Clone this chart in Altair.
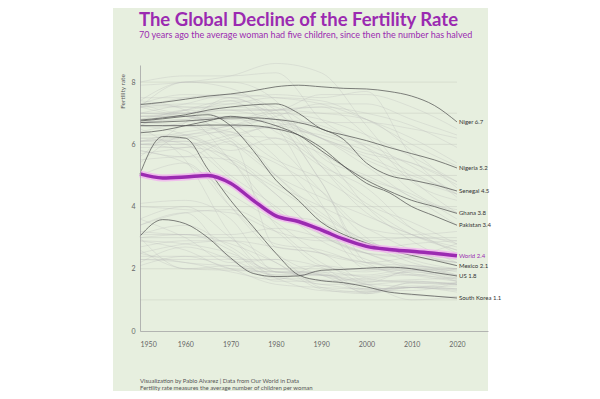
import altair as alt
import pandas as pd

# ---------------- data ----------------
YEARS = [1950, 1955, 1960, 1965, 1970, 1975, 1980, 1985, 1990, 1995, 2000, 2005, 2010, 2015, 2020]
DECADES = [1950, 1960, 1970, 1980, 1990, 2000, 2010, 2020]

WORLD = [5.05, 4.92, 4.95, 5.0, 4.75, 4.2, 3.7, 3.52, 3.25, 2.95, 2.72, 2.62, 2.56, 2.5, 2.42]

NIGER = [7.28, 7.35, 7.45, 7.55, 7.62, 7.72, 7.85, 7.9, 7.85, 7.8, 7.78, 7.7, 7.55, 7.25, 6.72]
NIGERIA = [6.78, 6.85, 6.95, 7.1, 7.2, 7.27, 7.3, 7.0, 6.5, 6.3, 6.12, 5.9, 5.7, 5.5, 5.24]
SENEGAL = [6.7, 6.72, 6.75, 6.8, 6.85, 6.85, 6.8, 6.7, 6.5, 6.15, 5.4, 5.0, 4.85, 4.7, 4.5]
GHANA = [6.37, 6.45, 6.6, 6.75, 6.9, 6.8, 6.6, 6.3, 5.8, 5.3, 4.85, 4.5, 4.2, 4.0, 3.78]
PAKISTAN = [6.6, 6.6, 6.6, 6.62, 6.62, 6.6, 6.5, 6.3, 5.9, 5.3, 4.75, 4.45, 4.0, 3.7, 3.4]
MEXICO = [6.75, 6.82, 6.9, 6.95, 6.6, 5.8, 4.85, 4.2, 3.5, 3.1, 2.83, 2.6, 2.43, 2.27, 2.1]
US = [3.05, 3.58, 3.45, 3.0, 2.35, 1.85, 1.75, 1.77, 1.95, 1.98, 2.02, 2.05, 2.0, 1.88, 1.77]
SOUTH_KOREA = [5.05, 6.25, 6.2, 5.2, 4.2, 3.35, 2.5, 1.8, 1.62, 1.55, 1.42, 1.25, 1.18, 1.12, 1.06]

HIGHLIGHT_NAMES = ["Niger", "Nigeria", "Senegal", "Ghana", "Pakistan", "Mexico", "US", "South Korea"]
HIGHLIGHT_VALUES = [NIGER, NIGERIA, SENEGAL, GHANA, PAKISTAN, MEXICO, US, SOUTH_KOREA]
LABEL_TEXTS = ["Niger 6.7", "Nigeria 5.2", "Senegal 4.5", "Ghana 3.8", "Pakistan 3.4",
               "Mexico 2.1", "US  1.8", "South Korea 1.1", "World 2.4"]

BACKGROUND = {
    "France": [2.9, 2.8, 2.5, 1.9, 1.8, 1.8, 2.0, 1.8],
    "United Kingdom": [2.2, 2.7, 2.3, 1.8, 1.8, 1.65, 1.9, 1.6],
    "Germany": [2.1, 2.4, 2.0, 1.5, 1.4, 1.35, 1.4, 1.55],
    "Italy": [2.4, 2.4, 2.4, 1.7, 1.3, 1.25, 1.4, 1.3],
    "Spain": [2.5, 2.8, 2.9, 2.2, 1.35, 1.2, 1.4, 1.25],
    "Japan": [3.0, 2.0, 2.1, 1.75, 1.5, 1.35, 1.4, 1.35],
    "Sweden": [2.3, 2.2, 1.9, 1.65, 2.1, 1.55, 1.95, 1.7],
    "Canada": [3.4, 3.8, 2.3, 1.7, 1.65, 1.5, 1.6, 1.5],
    "Australia": [3.1, 3.4, 2.7, 1.9, 1.9, 1.75, 1.9, 1.65],
    "Russia": [2.9, 2.6, 2.0, 1.9, 1.9, 1.2, 1.55, 1.5],
    "Poland": [3.6, 3.0, 2.2, 2.3, 2.05, 1.35, 1.4, 1.45],
    "Hungary": [2.6, 2.0, 1.95, 1.9, 1.85, 1.3, 1.3, 1.55],
    "Greece": [2.3, 2.3, 2.3, 2.3, 1.4, 1.25, 1.45, 1.35],
    "Netherlands": [3.1, 3.1, 2.6, 1.6, 1.6, 1.7, 1.8, 1.6],
    "Argentina": [3.2, 3.1, 3.1, 3.3, 3.0, 2.5, 2.35, 2.2],
    "Uruguay": [2.7, 2.9, 2.9, 2.7, 2.5, 2.2, 2.0, 1.95],
    "New Zealand": [3.6, 4.0, 3.0, 2.0, 2.1, 1.95, 2.1, 1.8],
    "Portugal": [3.0, 3.1, 2.8, 2.2, 1.5, 1.5, 1.4, 1.35],
    "Ireland": [3.4, 3.8, 3.9, 3.2, 2.1, 1.9, 2.05, 1.75],
    "Bulgaria": [2.5, 2.2, 2.1, 2.0, 1.8, 1.25, 1.55, 1.55],
    "China": [5.8, 5.6, 6.1, 2.7, 2.5, 1.6, 1.65, 1.7],
    "Thailand": [6.1, 6.2, 5.5, 3.4, 2.2, 1.7, 1.55, 1.5],
    "Taiwan": [6.0, 5.8, 4.0, 2.5, 1.8, 1.5, 1.0, 1.1],
    "Singapore": [6.5, 5.5, 3.1, 1.8, 1.8, 1.5, 1.15, 1.1],
    "Iran": [6.9, 6.9, 6.6, 6.5, 4.8, 2.2, 1.8, 2.0],
    "Brazil": [6.1, 6.1, 5.0, 4.0, 2.9, 2.3, 1.85, 1.7],
    "Vietnam": [5.4, 6.3, 6.4, 5.0, 3.6, 2.0, 1.95, 2.0],
    "Turkey": [6.6, 6.3, 5.5, 4.4, 3.1, 2.5, 2.1, 2.0],
    "Colombia": [6.7, 6.8, 5.5, 3.9, 3.1, 2.5, 2.0, 1.8],
    "Chile": [5.0, 5.4, 4.0, 2.8, 2.6, 2.1, 1.8, 1.6],
    "Indonesia": [5.5, 5.6, 5.5, 4.4, 3.1, 2.5, 2.4, 2.2],
    "India": [5.9, 5.9, 5.6, 4.7, 4.0, 3.3, 2.6, 2.1],
    "Bangladesh": [6.4, 6.7, 6.9, 6.0, 4.5, 3.0, 2.3, 2.0],
    "Egypt": [6.6, 6.6, 6.0, 5.4, 4.5, 3.3, 3.1, 3.2],
    "Philippines": [7.4, 7.1, 6.1, 5.0, 4.3, 3.7, 3.1, 2.6],
    "Morocco": [6.6, 7.1, 6.7, 5.6, 4.0, 2.8, 2.5, 2.3],
    "Algeria": [7.3, 7.6, 7.5, 6.8, 4.8, 2.6, 2.8, 2.9],
    "Saudi Arabia": [7.2, 7.3, 7.3, 7.0, 5.8, 4.0, 2.9, 2.2],
    "Peru": [6.9, 6.9, 6.2, 5.0, 3.8, 2.9, 2.5, 2.2],
    "South Africa": [6.0, 6.1, 5.4, 4.6, 3.7, 2.9, 2.5, 2.4],
    "Cuba": [4.1, 4.2, 3.6, 1.9, 1.8, 1.6, 1.6, 1.5],
    "Sri Lanka": [5.8, 5.4, 4.4, 3.5, 2.5, 2.2, 2.1, 2.0],
    "Malaysia": [6.2, 6.0, 4.9, 3.8, 3.5, 2.8, 2.2, 1.9],
    "Yemen": [7.9, 8.0, 8.2, 8.6, 8.3, 6.6, 4.9, 3.8],
    "Afghanistan": [7.5, 7.5, 7.5, 7.6, 7.5, 7.7, 5.6, 4.3],
    "Ethiopia": [7.2, 6.9, 6.8, 7.1, 7.2, 6.3, 4.8, 4.2],
    "Kenya": [7.2, 8.0, 8.0, 7.4, 5.6, 5.0, 4.3, 3.4],
    "Rwanda": [8.0, 8.2, 8.2, 8.3, 6.8, 5.9, 4.5, 3.8],
    "Uganda": [6.9, 7.0, 7.1, 7.1, 7.0, 6.8, 5.8, 4.6],
    "DR Congo": [6.0, 6.0, 6.3, 6.6, 6.7, 6.7, 6.5, 6.2],
    "Mali": [7.0, 7.0, 7.1, 7.1, 7.2, 7.0, 6.6, 5.9],
    "Chad": [6.1, 6.2, 6.5, 6.9, 7.3, 7.3, 6.8, 6.3],
    "Somalia": [7.2, 7.2, 7.2, 7.1, 7.6, 7.6, 7.2, 6.5],
    "Angola": [7.0, 7.3, 7.6, 7.5, 7.3, 6.8, 6.2, 5.4],
    "Tanzania": [6.8, 6.9, 6.8, 6.7, 6.2, 5.7, 5.4, 4.8],
    "Mozambique": [6.6, 6.6, 6.6, 6.5, 6.3, 5.8, 5.4, 4.7],
    "Zambia": [6.6, 7.1, 7.4, 7.2, 6.4, 6.0, 5.3, 4.4],
    "Sudan": [6.7, 6.8, 6.9, 6.8, 6.2, 5.5, 4.9, 4.4],
    "Burkina Faso": [6.1, 6.4, 6.6, 7.0, 6.8, 6.3, 5.6, 4.8],
    "Madagascar": [7.3, 7.2, 7.1, 6.8, 6.2, 5.3, 4.3, 3.9],
    "Iraq": [7.3, 7.0, 7.4, 6.4, 5.7, 4.9, 4.4, 3.6],
    "Guatemala": [7.0, 6.9, 6.3, 6.2, 5.3, 4.6, 3.3, 2.5],
    "Bolivia": [6.7, 6.6, 6.4, 5.5, 4.9, 4.0, 3.1, 2.6],
    "Haiti": [6.3, 6.3, 5.8, 6.2, 5.4, 4.3, 3.3, 2.8],
    "Syria": [7.2, 7.5, 7.6, 7.1, 5.3, 3.8, 3.1, 2.7],
    "Jordan": [7.4, 8.0, 7.8, 6.9, 5.3, 4.1, 3.5, 2.8],
    "Guinea": [6.2, 6.3, 6.6, 6.8, 6.6, 5.9, 5.1, 4.4],
    "Cameroon": [5.7, 5.9, 6.2, 6.6, 6.2, 5.6, 5.0, 4.5],
    "Burundi": [6.8, 7.1, 7.3, 7.5, 7.4, 6.8, 6.0, 5.3],
    "Mongolia": [5.6, 6.7, 7.5, 6.6, 4.1, 2.2, 2.4, 2.8],
    "Israel": [4.0, 3.9, 3.8, 3.2, 2.9, 2.9, 3.0, 2.9],
}

X_TICKS = [1950, 1960, 1970, 1980, 1990, 2000, 2010, 2020]
Y_TICKS = [0, 1, 2, 3, 4, 5, 6, 7, 8]
GRID_VALUES = [1, 2, 3, 4, 5, 6, 7, 8]

TITLE = "The Global Decline of the Fertility Rate"
SUBTITLE = "70 years ago the average woman had five children, since then the number has halved"
FOOTER_1 = "Visualization by Pablo Alvarez | Data from Our World in Data"
FOOTER_2 = "Fertility rate measures the average number of children per woman"

PURPLE = "#9b2ab1"
PANEL = "#e7efdf"
FONT = "Lato"

# ---------------- tables ----------------
bg_rows = [{"country": c, "year": y, "rate": v}
           for c, vals in BACKGROUND.items() for y, v in zip(DECADES, vals)]
bg_df = pd.DataFrame(bg_rows)

hl_rows = [{"country": c, "year": y, "rate": v}
           for c, vals in zip(HIGHLIGHT_NAMES, HIGHLIGHT_VALUES) for y, v in zip(YEARS, vals)]
hl_df = pd.DataFrame(hl_rows)

world_df = pd.DataFrame({"year": YEARS, "rate": WORLD})

label_df = pd.DataFrame({
    "country": HIGHLIGHT_NAMES + ["World"],
    "year": [YEARS[-1]] * (len(HIGHLIGHT_NAMES) + 1),
    "rate": [v[-1] for v in HIGHLIGHT_VALUES] + [WORLD[-1]],
    "label": LABEL_TEXTS,
    "is_world": [False] * len(HIGHLIGHT_NAMES) + [True],
})

grid_df = pd.DataFrame({"rate": GRID_VALUES, "start": [X_TICKS[0]] * len(GRID_VALUES),
                        "end": [X_TICKS[-1]] * len(GRID_VALUES)})
one_df = pd.DataFrame({"k": [0]})

# ---------------- chart ----------------
x_scale = alt.Scale(domain=[1950, 2026.85], nice=False)
y_scale = alt.Scale(domain=[0, 8.55], nice=False)

x_axis = alt.Axis(values=X_TICKS, format="d", title=None, grid=False, ticks=False,
                  labelPadding=9, domainColor="#a5a5a5", domainWidth=0.8,
                  labelFontSize=7, labelColor="#666", labelFont=FONT, zindex=1)
y_axis = alt.Axis(values=Y_TICKS, title="Fertility rate", titleAngle=-90, titleX=-18, titleY=26,
                  titleAlign="center", titleBaseline="middle", titleFontSize=6.5,
                  titleFontWeight="normal", titleColor="#555", titleFont=FONT,
                  grid=False, ticks=False, labelPadding=5, domainColor="#a5a5a5", domainWidth=0.8,
                  labelFontSize=7, labelColor="#666", labelFont=FONT, zindex=1)

panel = alt.Chart(one_df).mark_rect(color=PANEL).encode(
    x=alt.value(-27), x2=alt.value(348), y=alt.value(-57), y2=alt.value(326))

grid = alt.Chart(grid_df).mark_rule(color="#d3d9cd", strokeWidth=0.8).encode(
    x=alt.X("start:Q", scale=x_scale, axis=x_axis),
    x2="end:Q",
    y=alt.Y("rate:Q", scale=y_scale, axis=y_axis),
)

bg_lines = alt.Chart(bg_df).mark_line(interpolate="monotone", color="#b8b8b8",
                                      strokeWidth=0.8, opacity=0.38).encode(
    x=alt.X("year:Q", scale=x_scale),
    y=alt.Y("rate:Q", scale=y_scale),
    detail="country:N",
)

hl_lines = alt.Chart(hl_df).mark_line(interpolate="monotone", color="#505050",
                                      strokeWidth=0.8, opacity=0.9).encode(
    x=alt.X("year:Q", scale=x_scale),
    y=alt.Y("rate:Q", scale=y_scale),
    detail="country:N",
)

world_glow = alt.Chart(world_df).mark_line(interpolate="monotone", color="#f4a9f2",
                                           strokeWidth=7, opacity=0.7).encode(
    x=alt.X("year:Q", scale=x_scale), y=alt.Y("rate:Q", scale=y_scale))
world_line = alt.Chart(world_df).mark_line(interpolate="monotone", color=PURPLE,
                                           strokeWidth=3.5).encode(
    x=alt.X("year:Q", scale=x_scale), y=alt.Y("rate:Q", scale=y_scale))

labels = alt.Chart(label_df).mark_text(align="left", baseline="middle", dx=2,
                                       fontSize=6, font=FONT).encode(
    x=alt.X("year:Q", scale=x_scale),
    y=alt.Y("rate:Q", scale=y_scale),
    text="label:N",
    color=alt.condition("datum.is_world", alt.value(PURPLE), alt.value("#333")),
)

title_mark = alt.Chart(one_df).mark_text(text=TITLE, align="left", baseline="alphabetic",
                                         fontSize=18.5, fontWeight="bold", font=FONT,
                                         color=PURPLE).encode(
    x=alt.value(-1), y=alt.value(-39))
subtitle_mark = alt.Chart(one_df).mark_text(text=SUBTITLE, align="left", baseline="alphabetic",
                                            fontSize=9, font=FONT, color=PURPLE).encode(
    x=alt.value(-1), y=alt.value(-27.5))

footer1 = alt.Chart(one_df).mark_text(text=FOOTER_1, align="left", baseline="middle",
                                      fontSize=6, font=FONT, color="#555").encode(
    x=alt.value(0), y=alt.value(316))
footer2 = alt.Chart(one_df).mark_text(text=FOOTER_2, align="left", baseline="middle",
                                      fontSize=6, font=FONT, color="#555").encode(
    x=alt.value(0), y=alt.value(323))

chart = alt.layer(panel, grid, bg_lines, hl_lines, world_glow, world_line, labels,
                  title_mark, subtitle_mark, footer1, footer2).properties(
    width=348, height=266,
    autosize=alt.AutoSizeParams(type="none"),
    padding={"left": 132, "top": 57, "right": 104, "bottom": 60},
    background="white",
).configure_view(stroke=None)

chart.save("out.html", embed_options={"renderer": "svg", "actions": False})
